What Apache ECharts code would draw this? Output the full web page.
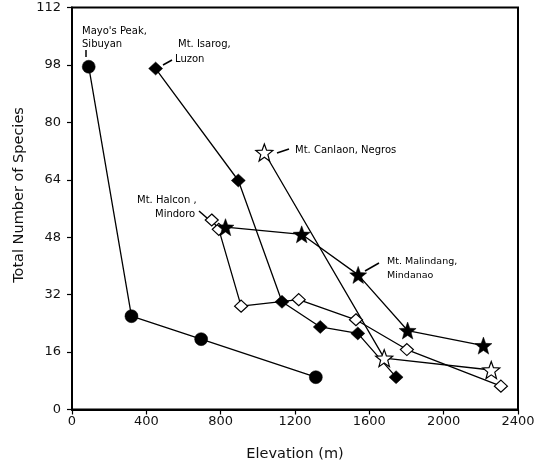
<!DOCTYPE html>
<html><head><meta charset="utf-8">
<script src="https://cdn.jsdelivr.net/npm/echarts@6/dist/echarts.min.js"></script>
<style>html,body{margin:0;padding:0;background:#fff}#c{width:544px;height:463px}</style>
</head><body><div id="c"></div>
<script>
// ---- data ----
const xTickValues = [0, 400, 800, 1200, 1600, 2000, 2400];
const xTickLabels = ['0', '400', '800', '1200', '1600', '2000', '2400'];
const yTickValues = [0, 16, 32, 48, 64, 80, 96, 112];
const yTickLabels = ['0', '16', '32', '48', '64', '80', '98', '112'];

const sibuyanElev = [90, 320, 695, 1312];
const sibuyanSpecies = [95.5, 26, 19.6, 9];

const isarogElev = [450, 895, 1130, 1336, 1538, 1744];
const isarogSpecies = [95, 63.8, 30, 23, 21.2, 9];

const canlaonElev = [1035, 1680, 2256];
const canlaonSpecies = [71.6, 14.3, 11];

const halconElev = [752, 790, 910, 1220, 1528, 1802, 2308];
const halconSpecies = [52.8, 50.2, 28.8, 30.6, 25, 16.7, 6.5];

const malindangElev = [826, 1236, 1540, 1806, 2214];
const malindangSpecies = [50.8, 48.8, 37.5, 22, 17.8];

const xTitle = 'Elevation (m)';
const yTitle = 'Total Number of Species';

// ---- helpers ----
function pairs(xs, ys) { return xs.map((x, i) => [x, ys[i]]); }
function starPath(inner) {
  let d = '';
  for (let i = 0; i < 10; i++) {
    const r = i % 2 ? inner : 1;
    const a = -Math.PI / 2 + i * Math.PI / 5;
    d += (i ? 'L' : 'M') + (r * Math.cos(a) * 100).toFixed(2) + ' ' + (r * Math.sin(a) * 100).toFixed(2) + ' ';
  }
  return 'path://' + d + 'Z';
}
const STAR = starPath(0.42);
const FONT = '"DejaVu Sans", sans-serif';

function lineSeries(name, xs, ys, symbol, size, filled) {
  return {
    name: name, type: 'line', data: pairs(xs, ys),
    symbol: symbol, symbolSize: size, showSymbol: true,
    lineStyle: { color: '#000', width: 1.3 },
    itemStyle: { color: filled ? '#000' : '#fff', borderColor: '#000', borderWidth: filled ? 0.5 : 1.2 },
    emphasis: { disabled: true }, animation: false
  };
}

const chart = echarts.init(document.getElementById('c'), null, { renderer: 'canvas' });

function txt(x, y, text, size) {
  return {
    type: 'text', x: x, y: y, silent: true,
    style: { text: text, font: size + 'px ' + FONT, fill: '#000', textAlign: 'left', textVerticalAlign: 'middle' }
  };
}
function seg(x1, y1, x2, y2) {
  return { type: 'line', silent: true, shape: { x1: x1, y1: y1, x2: x2, y2: y2 }, style: { stroke: '#000', lineWidth: 1.5 } };
}

chart.setOption({
  animation: false,
  backgroundColor: '#fff',
  grid: { left: 72, right: 26, top: 7.5, bottom: 53.5, show: true, borderColor: '#000', borderWidth: 2, backgroundColor: 'transparent' },
  xAxis: {
    type: 'value', min: xTickValues[0], max: xTickValues[xTickValues.length - 1], interval: 400,
    axisLine: { show: true, lineStyle: { color: '#000', width: 2 } },
    axisTick: { show: true, inside: false, length: 5, lineStyle: { color: '#000', width: 1.2 } },
    axisLabel: {
      color: '#111', fontSize: 13, fontFamily: FONT, margin: 6,
      formatter: function (v) { const i = xTickValues.indexOf(v); return i >= 0 ? xTickLabels[i] : ''; }
    },
    splitLine: { show: false }
  },
  yAxis: {
    type: 'value', min: yTickValues[0], max: yTickValues[yTickValues.length - 1], interval: 16,
    axisLine: { show: true, lineStyle: { color: '#000', width: 2 } },
    axisTick: { show: true, inside: false, length: 5, lineStyle: { color: '#000', width: 1.2 } },
    axisLabel: {
      color: '#111', fontSize: 13, fontFamily: FONT, margin: 11,
      formatter: function (v) { const i = yTickValues.indexOf(v); return i >= 0 ? yTickLabels[i] : ''; }
    },
    splitLine: { show: false }
  },
  series: [
    lineSeries('Mayo\'s Peak, Sibuyan', sibuyanElev, sibuyanSpecies, 'circle', 13, true),
    lineSeries('Mt. Isarog, Luzon', isarogElev, isarogSpecies, 'diamond', [14, 13], true),
    lineSeries('Mt. Canlaon, Negros', canlaonElev, canlaonSpecies, STAR, 17, false),
    lineSeries('Mt. Halcon, Mindoro', halconElev, halconSpecies, 'diamond', [13, 12], false),
    lineSeries('Mt. Malindang, Mindanao', malindangElev, malindangSpecies, STAR, 17, true)
  ],
  graphic: [
    { type: 'text', x: 295, y: 454, silent: true,
      style: { text: xTitle, font: '14.5px ' + FONT, fill: '#111', textAlign: 'center', textVerticalAlign: 'middle' } },
    { type: 'text', x: 19, y: 195, rotation: Math.PI / 2, silent: true,
      style: { text: yTitle, font: '14.5px ' + FONT, fill: '#111', textAlign: 'center', textVerticalAlign: 'middle' } },
    txt(82, 31, 'Mayo\'s Peak,', 10),
    txt(82, 44, 'Sibuyan', 10),
    seg(86, 50, 86, 57),
    txt(178, 44, 'Mt. Isarog,', 10),
    txt(175, 59, 'Luzon', 10),
    seg(163, 65, 172, 60),
    txt(295, 150, 'Mt. Canlaon, Negros', 10),
    seg(277, 153, 289, 149),
    txt(137, 200, 'Mt. Halcon ,', 10),
    txt(155, 214, 'Mindoro', 10),
    seg(199, 211, 207, 218),
    txt(387, 262, 'Mt. Malindang,', 9.5),
    txt(387, 276, 'Mindanao', 9.5),
    seg(365, 271, 379, 263)
  ]
});
</script>
</body></html>
